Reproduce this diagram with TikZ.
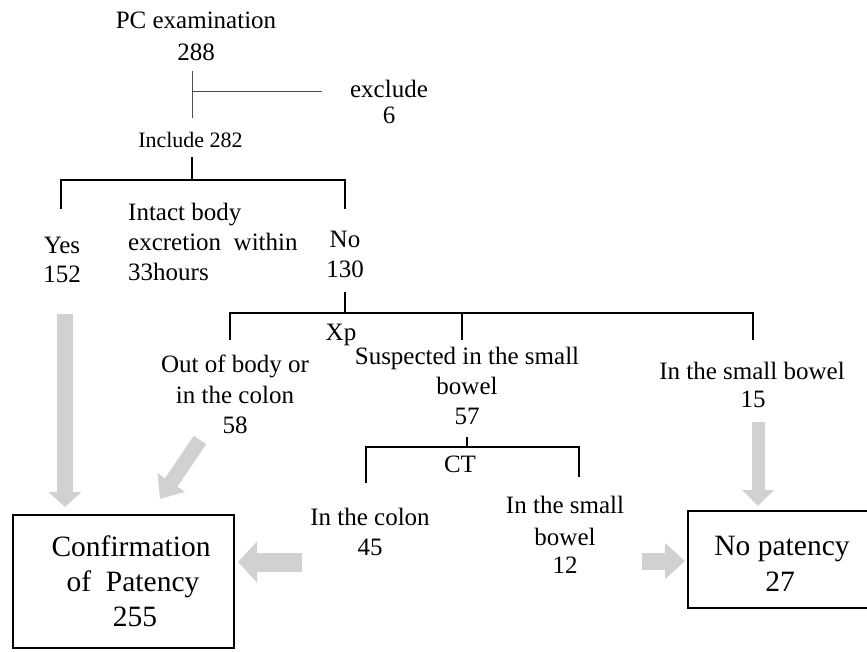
\documentclass[tikz,border=0pt]{standalone}
\usepackage{fontspec}
\setmainfont{Liberation Serif}
\usetikzlibrary{arrows.meta}
\definecolor{arrgray}{RGB}{208,209,211}
\begin{document}
\begin{tikzpicture}[x=1pt,y=-1pt,
  txt/.style={inner sep=0pt, anchor=base, font=\fontsize{25}{30}\selectfont},
  txtl/.style={inner sep=0pt, anchor=base west, font=\fontsize{25}{30}\selectfont},
  smalltxt/.style={inner sep=0pt, anchor=base, font=\fontsize{22}{26}\selectfont},
  bigtxt/.style={inner sep=0pt, anchor=base, font=\fontsize{29.5}{35}\selectfont},
  brk/.style={line width=1.6pt, black},
  thinline/.style={line width=0.9pt, black!70},
  boxst/.style={draw, line width=2pt, inner sep=0pt},
  garrow/.style={draw=arrgray, line width=#1},
]
\clip (0,0) rectangle (867,651);

% ---------- text ----------
\node[txt] (pc) at (196,28) {PC examination};
\node[txt] (pcn) at (196,60) {288};
\node[txt] (exc) at (389,97) {exclude};
\node[txt] (excn) at (389,123) {6};
\node[smalltxt] (inc) at (190.5,147) {Include 282};

\node[txtl] (q1) at (128,220) {Intact body};
\node[txtl] (q2) at (128,250) {excretion~ within};
\node[txtl] (q3) at (128,280) {33hours};

\node[txt] (yes) at (62,253) {Yes};
\node[txt] (yesn) at (62,282) {152};
\node[txt] (no) at (345,247) {No};
\node[txt] (non) at (345,277) {130};

\node[txt] (xp) at (341,340) {Xp};

\node[txt] (oob1) at (235,372) {Out of body or};
\node[txt] (oob2) at (235,403) {in the colon};
\node[txt] (oobn) at (235,433) {58};

\node[txt] (sus1) at (467,364) {Suspected in the small};
\node[txt] (sus2) at (467,394) {bowel};
\node[txt] (susn) at (467,424) {57};

\node[txt] (sb1) at (752,379) {In the small bowel};
\node[txt] (sbn) at (753,407) {15};

\node[txt] (ct) at (460,472) {CT};

\node[txt] (col1) at (370,525) {In the colon};
\node[txt] (coln) at (370,555) {45};

\node[txt] (csb1) at (565,513) {In the small};
\node[txt] (csb2) at (565,545) {bowel};
\node[txt] (csbn) at (565,573) {12};

% ---------- result boxes ----------
\node[boxst, minimum width=221pt, minimum height=133pt] (conf) at (123.5,581.5) {};
\node[bigtxt] (conf1) at (131,556) {Confirmation};
\node[bigtxt] (conf2) at (133,591) {of\ \ Patency};
\node[bigtxt] (conf3) at (135,626) {255};

\node[boxst, minimum width=190pt, minimum height=97pt] (nop) at (783,559.5) {};
\node[bigtxt] (nop1) at (782,555) {No patency};
\node[bigtxt] (nop2) at (780,591) {27};

% ---------- tree lines ----------
\coordinate (j0) at (192,71);
\coordinate (j0b) at (192,118);
\coordinate (j0m) at (192,91);
\coordinate (j0e) at (322,91);
\draw[thinline] (j0) -- (j0b);
\draw[thinline] (j0m) -- (j0e);

\coordinate (j1t) at (192,157);
\coordinate (j1) at (192,180);
\coordinate (j1l) at (61,180);
\coordinate (j1r) at (345,180);
\draw[brk] (j1t) -- (j1);
\draw[brk] (j1l |- 0,209) -- (j1l) -- (j1r) -- (j1r |- 0,209);

\coordinate (j2t) at (345,292);
\coordinate (j2) at (345,313);
\coordinate (j2l) at (230,313);
\coordinate (j2m) at (462,313);
\coordinate (j2r) at (753,313);
\draw[brk] (j2t) -- (j2);
\draw[brk] (j2l |- 0,340) -- (j2l) -- (j2r) -- (j2r |- 0,340);
\draw[brk] (j2m) -- (j2m |- 0,340);

\coordinate (j3t) at (467,437);
\coordinate (j3) at (467,447);
\coordinate (j3l) at (366,447);
\coordinate (j3r) at (579,447);
\draw[brk] (j3t) -- (j3);
\draw[brk] (j3l |- 0,483) -- (j3l) -- (j3r) -- (j3r |- 0,477);

% ---------- grey block arrows ----------
\coordinate (ayS) at (65,314);
\coordinate (ayE) at (65,507);
\draw[garrow=16pt, -{Triangle[width=32pt,length=15pt]}, arrgray] (ayS) -- (ayE);

\coordinate (adS) at (200,440);
\coordinate (adE) at (160,499);
\draw[garrow=15pt, -{Triangle[width=32pt,length=20pt]}, arrgray] (adS) -- (adE);

\coordinate (alS) at (302,562);
\coordinate (alE) at (238,562);
\draw[garrow=19pt, -{Triangle[width=40pt,length=19pt]}, arrgray] (alS) -- (alE);

\coordinate (arS) at (642,561);
\coordinate (arE) at (685,561);
\draw[garrow=17pt, -{Triangle[width=35pt,length=20pt]}, arrgray] (arS) -- (arE);

\coordinate (avS) at (758,422);
\coordinate (avE) at (758,506);
\draw[garrow=13pt, -{Triangle[width=31pt,length=16pt]}, arrgray] (avS) -- (avE);
\end{tikzpicture}
\end{document}
